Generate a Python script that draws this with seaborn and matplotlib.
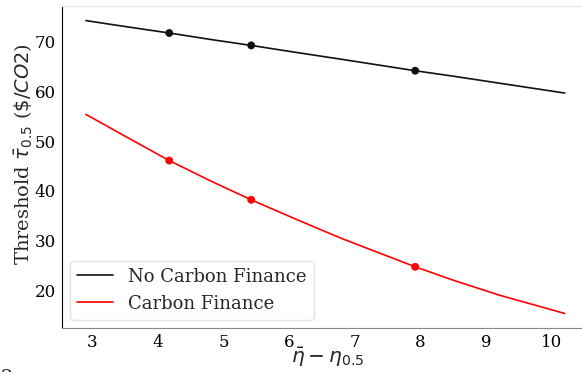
import numpy as np
import pandas as pd
import matplotlib
matplotlib.use("Agg")
import matplotlib.pyplot as plt
import seaborn as sns

# values
gap = [2.9, 3.5, 4.17, 4.8, 5.42, 6.1, 6.8, 7.92, 8.5, 9.2, 10.2]
no_cf = [74.3, 73.1, 71.8, 70.5, 69.3, 67.9, 66.5, 64.2, 63.1, 61.7, 59.7]
with_cf = [55.4, 51.0, 46.1, 42.0, 38.2, 34.3, 30.4, 24.7, 22.0, 19.0, 15.3]

dot_gap = [4.17, 5.42, 7.92]
dot_no_cf = [71.8, 69.3, 64.2]
dot_with_cf = [46.1, 38.2, 24.7]

series_names = ["No Carbon Finance", "Carbon Finance"]

sns.set_style("white")
plt.rcParams["font.family"] = ["DejaVu Serif"]
plt.rcParams["mathtext.fontset"] = "dejavusans"

lines = pd.DataFrame({
    "gap": gap * 2,
    "tau": no_cf + with_cf,
    "case": [series_names[0]] * len(gap) + [series_names[1]] * len(gap),
})
dots = pd.DataFrame({
    "gap": dot_gap * 2,
    "tau": dot_no_cf + dot_with_cf,
    "case": [series_names[0]] * 3 + [series_names[1]] * 3,
})
pal = {series_names[0]: "#111111", series_names[1]: "red"}

fig = plt.figure(figsize=(5.82, 3.72), dpi=100)
ax = fig.add_axes([0.1065, 0.118, 0.905, 0.866])

sns.lineplot(data=lines, x="gap", y="tau", hue="case", palette=pal,
             linewidth=1.2, ax=ax)
sns.scatterplot(data=dots, x="gap", y="tau", hue="case", palette=pal,
                s=32, edgecolor="none", legend=False, ax=ax)

ax.set_xticks(range(3, 11))
ax.set_yticks(range(20, 80, 10))
ax.tick_params(labelsize=12, length=2.5, width=0.8, pad=2, colors="#333333",
               labelcolor="black")
ax.set_xlabel(r"$\bar{\eta} - \eta_{0.5}$", fontsize=14.5)
ax.xaxis.set_label_coords(0.505, -0.057)
ax.xaxis.label.set_va("top")
ax.set_ylabel(r"Threshold $\bar{\tau}_{0.5}$ ($\$/CO2$)", fontsize=14)
ax.yaxis.set_label_coords(-0.051, 0.54)

ax.spines["left"].set_color("black")
ax.spines["bottom"].set_color("#888888")
ax.spines["top"].set_color("#e6e6e6")
ax.spines["right"].set_visible(False)

leg = ax.legend(loc="lower left", fontsize=13, frameon=True, fancybox=True,
                borderaxespad=0.45)
leg.get_frame().set_edgecolor("#dddddd")

fig.text(0.002, -0.03, "2", fontsize=14)

fig.savefig("out.png", dpi=100)
